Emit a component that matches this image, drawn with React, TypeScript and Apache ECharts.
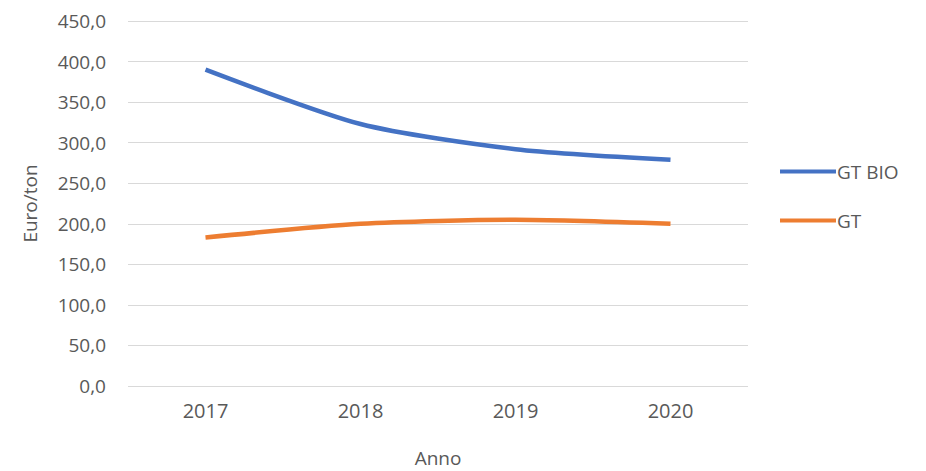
import React, { useEffect, useRef } from "react";
import * as echarts from "echarts";

const years = ["2017", "2018", "2019", "2020"];
const gtBio = [390, 323, 292, 279];
const gt = [183, 200, 205, 200];
const seriesNames = ["GT BIO", "GT"];
const colors = ["#4472C4", "#ED7D31"];

const FONT = "'Open Sans', 'Noto Sans', sans-serif";
const TXT = "#595959";

export default function App() {
  const ref = useRef<HTMLDivElement>(null);
  useEffect(() => {
    const chart = echarts.init(ref.current!, null, { renderer: "svg" });
    chart.setOption({
      animation: false,
      backgroundColor: "#ffffff",
      textStyle: { fontFamily: FONT },
      grid: { left: 128, right: 178, top: 21, bottom: 85, outerBoundsMode: "none", containLabel: false },
      legend: {
        orient: "vertical",
        left: 780,
        top: 162,
        padding: 0,
        itemGap: 30,
        itemWidth: 56,
        itemHeight: 4,
        icon: "rect",
        textStyle: { fontFamily: FONT, fontSize: 19, color: TXT, padding: [0, 0, 0, -4] },
        data: seriesNames,
      },
      xAxis: {
        type: "category",
        data: years,
        boundaryGap: true,
        name: "Anno",
        nameLocation: "middle",
        nameGap: 62,
        nameTextStyle: { fontFamily: FONT, fontSize: 19, color: TXT },
        axisLine: { show: false },
        axisTick: { show: false },
        axisLabel: { fontFamily: FONT, fontSize: 20, color: TXT, margin: 14 },
      },
      yAxis: {
        type: "value",
        min: 0,
        max: 450,
        interval: 50,
        name: "Euro/ton",
        nameLocation: "middle",
        nameGap: 89,
        nameTextStyle: { fontFamily: FONT, fontSize: 19, color: TXT },
        axisLabel: {
          fontFamily: FONT,
          fontSize: 19,
          color: TXT,
          margin: 22,
          formatter: (v: number) => v.toFixed(1).replace(".", ","),
        },
        splitLine: { lineStyle: { color: "#d9d9d9", width: 1 } },
        axisLine: { show: false },
        axisTick: { show: false },
      },
      series: [
        {
          name: seriesNames[0],
          type: "line",
          data: gtBio,
          smooth: 0.25,
          symbol: "none",
          lineStyle: { color: colors[0], width: 4.5 },
          itemStyle: { color: colors[0] },
        },
        {
          name: seriesNames[1],
          type: "line",
          data: gt,
          smooth: 0.25,
          symbol: "none",
          lineStyle: { color: colors[1], width: 4.5 },
          itemStyle: { color: colors[1] },
        },
      ],
    });
    return () => chart.dispose();
  }, []);
  return (
    <div
      ref={ref}
      style={{ position: "absolute", left: 0, top: 0, width: 926, height: 471 }}
    />
  );
}
